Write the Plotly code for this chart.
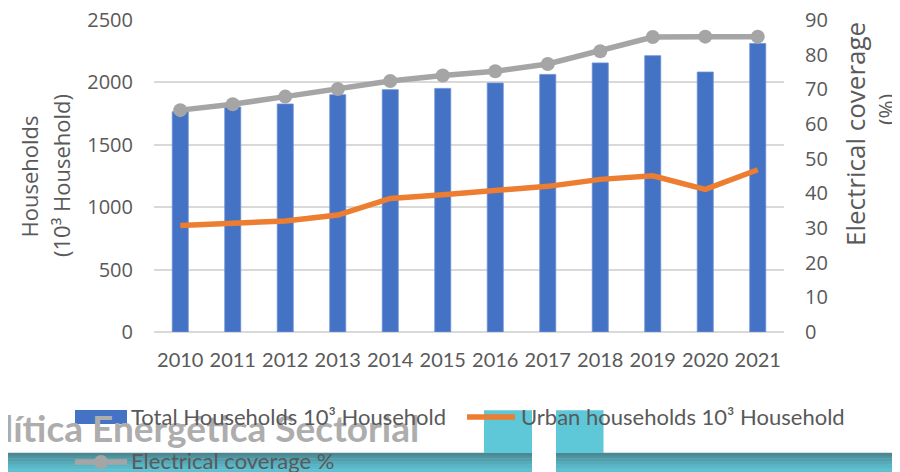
import plotly.graph_objects as go

years = ["2010", "2011", "2012", "2013", "2014", "2015", "2016", "2017", "2018", "2019", "2020", "2021"]
total_households = [1765, 1803, 1827, 1901, 1942, 1952, 1995, 2064, 2156, 2214, 2083, 2312]
urban_households = [854, 872, 890, 937, 1070, 1100, 1133, 1167, 1223, 1252, 1143, 1300]
electrical_coverage = [64.0, 65.7, 67.9, 70.1, 72.4, 74.0, 75.2, 77.3, 81.0, 85.1, 85.2, 85.2]

left_ticks = [0, 500, 1000, 1500, 2000, 2500]
right_ticks = [0, 10, 20, 30, 40, 50, 60, 70, 80, 90]

name_total = "Total Households 10³ Household"
name_urban = "Urban households 10³ Household"
name_cov = "Electrical coverage %"

BLUE = "#4472C4"
ORANGE = "#ED7D31"
GRAY = "#A5A5A5"
TXT = "#595959"
GRID = "#D9D9D9"
SANS = "Open Sans, Noto Sans, DejaVu Sans, sans-serif"
NARROW = "Lato, Liberation Sans Narrow, sans-serif"

OFF = 8  # the page body adds an 8px margin; the figure is placed to compensate
W, H = 900 - OFF, 472 - OFF
# plot area in the coordinates of the final 900x472 picture
L, R, T, B = 154, 784, 20, 332


def px(x):
    return (x - L) / (R - L)


def py(y):
    return (B - y) / (B - T)


fig = go.Figure()
fig.add_trace(go.Bar(x=years, y=total_households, name=name_total,
                     marker=dict(color=BLUE, line=dict(color="#6A8FD6", width=0.8)),
                     showlegend=False))
fig.add_trace(go.Scatter(x=years, y=urban_households, name=name_urban, mode="lines",
                         line=dict(color=ORANGE, width=5.5), showlegend=False))
fig.add_trace(go.Scatter(x=years, y=electrical_coverage, name=name_cov, mode="lines+markers",
                         line=dict(color=GRAY, width=5.5),
                         marker=dict(color=GRAY, size=14), yaxis="y2", showlegend=False))

shapes = []
annotations = []

# background band and decorations from the source slide
band_cols = ["#4C8792", "#4F939F", "#529FAC", "#56AAB8", "#59B4C3", "#5BBBCB", "#5DC0D0"]
n = len(band_cols)
y0b, y1b = 452.7, 472
for i, c in enumerate(band_cols):
    ya = y0b + (y1b - y0b) * i / n
    yb = y0b + (y1b - y0b) * (i + 1) / n + 0.5
    for xa, xb in [(0, 532), (556, 900)]:
        shapes.append(dict(type="rect", xref="paper", yref="paper", x0=px(xa), x1=px(xb),
                           y0=py(yb), y1=py(ya), fillcolor=c, line=dict(width=0)))
for xa, xb in [(484, 532), (556, 603.5)]:
    shapes.append(dict(type="rect", xref="paper", yref="paper", x0=px(xa), x1=px(xb),
                       y0=py(453), y1=py(410.3), fillcolor="#5EC8D9", line=dict(width=0)))

annotations.append(dict(text="<b>lítica Energética Sectorial</b>", xref="paper", yref="paper",
                        x=px(421), y=py(427), xanchor="right", yanchor="middle", showarrow=False,
                        font=dict(family="Lato, Noto Sans, sans-serif", size=37, color="#ADADAD")))

# legend (manual)
shapes.append(dict(type="rect", xref="paper", yref="paper", x0=px(75), x1=px(127),
                   y0=py(424), y1=py(410), fillcolor=BLUE, line=dict(width=0)))
shapes.append(dict(type="line", xref="paper", yref="paper", x0=px(467), x1=px(515),
                   y0=py(417), y1=py(417), line=dict(color=ORANGE, width=5.5)))
shapes.append(dict(type="line", xref="paper", yref="paper", x0=px(75), x1=px(127),
                   y0=py(462), y1=py(462), line=dict(color=GRAY, width=5.5)))
shapes.append(dict(type="circle", xref="paper", yref="paper", x0=px(94), x1=px(108),
                   y0=py(469), y1=py(455), fillcolor=GRAY, line=dict(width=0)))
for label, x, y in [(name_total, 129, 416), (name_urban, 519, 416), (name_cov, 129, 461)]:
    annotations.append(dict(text=label, xref="paper", yref="paper", x=px(x), y=py(y),
                            xanchor="left", yanchor="middle", showarrow=False,
                            font=dict(family=NARROW, size=22, color=TXT)))

# axis titles
for label, x, y, size in [("Households", 28, 176.5, 22), ("(10³ Household)", 61, 176, 22),
                          ("Electrical coverage", 855, 134, 26), ("(%)", 886, 110, 22)]:
    annotations.append(dict(text=label, xref="paper", yref="paper", x=px(x), y=py(y),
                            xanchor="center", yanchor="middle", showarrow=False, textangle=-90,
                            font=dict(family=SANS, size=size, color=TXT)))

fig.update_layout(
    width=W, height=H,
    margin=dict(l=L - OFF, r=900 - R, t=T - OFF, b=472 - B, pad=0, autoexpand=False),
    paper_bgcolor="white", plot_bgcolor="white",
    bargap=0.695,
    xaxis=dict(type="category", range=[-0.5, len(years) - 0.5],
               tickfont=dict(family=NARROW, size=20, color=TXT),
               showgrid=False, showline=False, ticks="", ticklabelstandoff=14,
               tickangle=0, automargin=False),
    yaxis=dict(range=[0, 2500], tickvals=left_ticks, showgrid=True, gridcolor=GRID, gridwidth=1.6,
               zeroline=True, zerolinecolor=GRID, zerolinewidth=1.6, showline=False, ticks="",
               tickfont=dict(family=SANS, size=20, color=TXT), ticklabelstandoff=20,
               ticklabeloverflow="allow", automargin=False),
    yaxis2=dict(range=[0, 90], tickvals=right_ticks, overlaying="y", side="right", showgrid=False,
                zeroline=False, showline=False, ticks="",
                tickfont=dict(family=SANS, size=20, color=TXT), ticklabelstandoff=20,
                ticklabeloverflow="allow", automargin=False),
    shapes=shapes, annotations=annotations, showlegend=False,
)

fig.write_html("out.html")
